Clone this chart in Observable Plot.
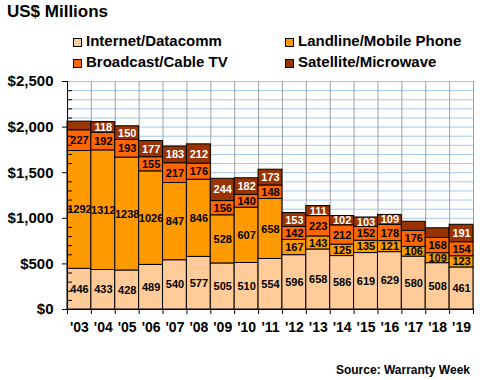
<!DOCTYPE html>
<html><head><meta charset="utf-8">
<script src="https://cdn.jsdelivr.net/npm/d3@7"></script>
<script src="https://cdn.jsdelivr.net/npm/@observablehq/plot@0.6"></script>
<style>
body{margin:0;background:#fff;font-family:"Liberation Sans",Arial,sans-serif;color:#000;}
#wrap{position:relative;width:480px;height:380px;overflow:hidden;background:#fff;}
#title{position:absolute;left:7px;top:2px;font-size:17px;line-height:20px;font-weight:bold;white-space:nowrap;}
.leg{position:absolute;font-size:15px;line-height:17px;font-weight:bold;white-space:nowrap;}
.sw{position:absolute;width:7px;height:7px;border:1px solid #000;}
#chart{position:absolute;left:0;top:72px;}
#src{position:absolute;right:10px;top:363px;font-size:12px;line-height:14px;font-weight:bold;white-space:nowrap;}
#chart svg text{font-weight:bold;}
</style>
</head><body>
<div id="wrap">
  <div id="title">US$ Millions</div>
  <div id="legend"></div>
  <div id="chart"></div>
  <div id="src">Source: Warranty Week</div>
</div>
<script>
const years = ["'03","'04","'05","'06","'07","'08","'09","'10","'11","'12","'13","'14","'15","'16","'17","'18","'19"];
const seriesNames = ["Internet/Datacomm","Landline/Mobile Phone","Broadcast/Cable TV","Satellite/Microwave"];
const colors = ["#FFCC99","#FF9900","#FF6600","#993300"];
const internet  = [446,433,428,489,540,577,505,510,554,596,658,586,619,629,580,508,461];
const landline  = [1292,1312,1238,1026,847,846,528,607,658,167,143,125,135,121,106,109,123];
const broadcast = [227,192,193,155,217,176,156,140,148,142,223,212,152,178,176,168,154];
const satellite = [95,118,150,177,183,212,244,182,173,153,111,102,103,109,100,105,191];
const hiddenSatelliteLabels = ["'03","'17","'18"];
const yMajor = [0,500,1000,1500,2000,2500];

const seriesValues = [internet, landline, broadcast, satellite];
const data = [];
years.forEach((yr, i) => {
  let cum = 0;
  seriesValues.forEach((vals, s) => {
    const v = vals[i];
    const hidden = s === 3 && hiddenSatelliteLabels.includes(yr);
    data.push({year: yr, i, series: seriesNames[s], s, value: v, y1: cum, y2: cum + v, mid: cum + v / 2, hidden});
    cum += v;
  });
});

// legend
const legend = document.getElementById("legend");
const legPos = [[73, 86, 32], [285, 298, 32], [73, 86, 53], [285, 298, 53]];
seriesNames.forEach((name, k) => {
  const [sx, tx, ty] = legPos[k];
  const sw = document.createElement("div");
  sw.className = "sw";
  sw.style.left = sx + "px"; sw.style.top = (ty + 6) + "px";
  sw.style.background = colors[k];
  legend.appendChild(sw);
  const t = document.createElement("div");
  t.className = "leg";
  t.style.left = tx + "px"; t.style.top = ty + "px";
  t.textContent = name;
  legend.appendChild(t);
});

const font = '"Liberation Sans", Arial, sans-serif';
const fmt = d3.format(",");
const minor = d3.range(100, 2500, 100).filter(d => d % 500 !== 0);

const chart = Plot.plot({
  width: 480, height: 268,
  marginLeft: 67, marginRight: 7, marginTop: 9, marginBottom: 31,
  x: {domain: [0, years.length], axis: null, label: null},
  y: {domain: [0, 2500], axis: null, label: null},
  color: {domain: seriesNames, range: colors},
  style: {fontFamily: font, background: "white", color: "black", overflow: "visible"},
  marks: [
    Plot.ruleY(d3.range(0, 2501, 100), {stroke: "#a3c9ee", strokeWidth: 1}),
    Plot.ruleX(d3.range(0, years.length + 1), {stroke: "#a0a0a0", strokeWidth: 1}),
    Plot.rect(data, {x1: "i", x2: d => d.i + 1, y1: "y1", y2: "y2", fill: "series", stroke: "black", strokeWidth: 1}),
    Plot.ruleY([0], {stroke: "black"}),
    Plot.ruleX([0], {stroke: "black"}),
    Plot.axisY({ticks: yMajor, label: null, tickSize: 5, tickPadding: 9, tickFormat: d => "$" + fmt(d), fontSize: 15, fontWeight: "bold", stroke: "black"}),
    Plot.axisY({ticks: minor, label: null, tickSize: 5, dx: 5, tickFormat: () => "", stroke: "black"}),
    Plot.axisX({ticks: d3.range(0, years.length + 1), label: null, tickSize: 5, tickFormat: () => "", stroke: "black"}),
    Plot.axisX({ticks: years.map((_, i) => i + 0.5), label: null, tickSize: 0, tickPadding: 13, tickFormat: d => years[Math.floor(d)], fontSize: 14, fontWeight: "bold"}),
    Plot.text(data.filter(d => d.s < 3), {x: d => d.i + 0.5, y: "mid", text: d => String(d.value), fill: "black", fontSize: 11, fontWeight: "bold"}),
    Plot.text(data.filter(d => d.s === 3 && !d.hidden), {x: d => d.i + 0.5, y: "mid", text: d => String(d.value), fill: "white", fontSize: 11, fontWeight: "bold"})
  ]
});
document.getElementById("chart").appendChild(chart);
</script>
</body></html>
